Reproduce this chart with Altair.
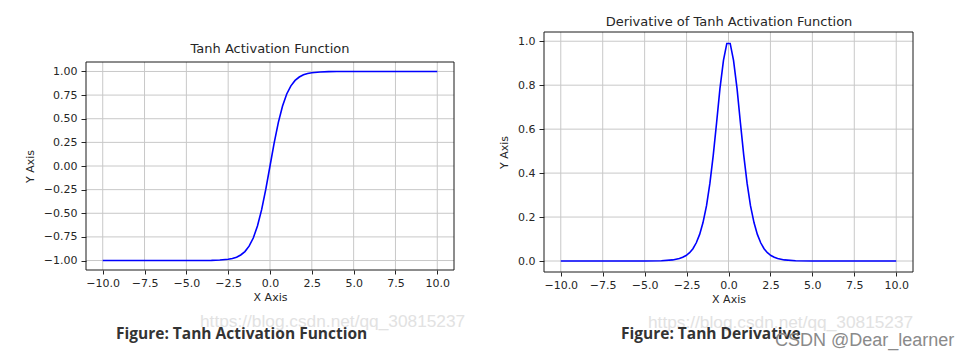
import altair as alt
import pandas as pd

# ---------------- data ----------------
X_TICKS = [-10.0, -7.5, -5.0, -2.5, 0.0, 2.5, 5.0, 7.5, 10.0]
Y1_TICKS = [-1.0, -0.75, -0.5, -0.25, 0.0, 0.25, 0.5, 0.75, 1.0]
Y2_TICKS = [0.0, 0.2, 0.4, 0.6, 0.8, 1.0]

TANH_X = [-10, -8, -6, -5, -4, -3.5, -3, -2.5, -2.25, -2, -1.75, -1.5, -1.25, -1,
          -0.75, -0.5, -0.25, 0, 0.25, 0.5, 0.75, 1, 1.25, 1.5, 1.75, 2, 2.25,
          2.5, 3, 3.5, 4, 5, 6, 8, 10]
TANH_Y = [-1.0, -1.0, -1.0, -1.0, -0.999, -0.998, -0.995, -0.987, -0.978, -0.964,
          -0.941, -0.905, -0.848, -0.762, -0.635, -0.462, -0.245, 0.0, 0.245,
          0.462, 0.635, 0.762, 0.848, 0.905, 0.941, 0.964, 0.978, 0.987, 0.995,
          0.998, 0.999, 1.0, 1.0, 1.0, 1.0]

DER_X = [-10, -8, -6, -5, -4, -3.33, -2.93, -2.73, -2.53, -2.32, -2.12, -1.92,
         -1.72, -1.52, -1.31, -1.11, -0.91, -0.71, -0.51, -0.30, -0.10, 0.10,
         0.30, 0.51, 0.71, 0.91, 1.11, 1.31, 1.52, 1.72, 1.92, 2.12, 2.32, 2.53,
         2.73, 2.93, 3.33, 4, 5, 6, 8, 10]
DER_Y = [0.0, 0.0, 0.0, 0.0, 0.001, 0.005, 0.011, 0.017, 0.025, 0.038, 0.056,
         0.083, 0.121, 0.175, 0.252, 0.353, 0.481, 0.629, 0.784, 0.913, 0.990,
         0.990, 0.913, 0.784, 0.629, 0.481, 0.353, 0.252, 0.175, 0.121, 0.083,
         0.056, 0.038, 0.025, 0.017, 0.011, 0.005, 0.001, 0.0, 0.0, 0.0, 0.0]

TITLES = ["Tanh Activation Function", "Derivative of Tanh Activation Function"]
CAPTIONS = ["Figure: Tanh Activation Function", "Figure: Tanh Derivative"]
WATERMARK = "https://blog.csdn.net/qq_30815237"
CREDIT = "CSDN @Dear_learner"
X_TITLE = "X Axis"
Y_TITLE = "Y Axis"

FONT = "DejaVu Sans"
INK = "#262626"
GRID = "#c8c8c8"


def panel(xs, ys, yticks, xdom, ydom, xrange, yrange, xoff, yoff, yfmt, ytp):
    xsc = alt.Scale(domain=xdom, range=xrange, nice=False, zero=False)
    ysc = alt.Scale(domain=ydom, range=yrange, nice=False, zero=False)
    xax = alt.Axis(title=X_TITLE, values=X_TICKS, format=".1f", orient="bottom",
                   offset=xoff, grid=False, domain=False, tickSize=4,
                   tickColor=INK, labelPadding=3, labelFont=FONT,
                   labelFontSize=11, labelColor=INK, titleFont=FONT,
                   titleFontSize=11, titleFontWeight="normal", titleColor=INK,
                   titlePadding=3, labelFlush=False, labelOverlap=False)
    yax = alt.Axis(title=Y_TITLE, values=yticks, format=yfmt, orient="left",
                   offset=yoff, grid=False, domain=False, tickSize=5,
                   tickColor=INK, labelPadding=4, labelFont=FONT,
                   labelFontSize=11, labelColor=INK, titleFont=FONT,
                   titleFontSize=11, titleFontWeight="normal", titleColor=INK,
                   titlePadding=ytp, labelFlush=False, labelOverlap=False)

    nx, ny = len(X_TICKS), len(yticks)
    vdf = pd.DataFrame({"gx": X_TICKS, "lo": [ydom[0]] * nx, "hi": [ydom[1]] * nx})
    hdf = pd.DataFrame({"gy": yticks, "lo": [xdom[0]] * ny, "hi": [xdom[1]] * ny})
    fdf = pd.DataFrame({"x0": [xdom[0]], "x1": [xdom[1]], "y0": [ydom[0]], "y1": [ydom[1]]})
    ldf = pd.DataFrame({"x": xs, "y": ys})

    vgrid = alt.Chart(vdf).mark_rule(color=GRID, strokeWidth=1).encode(
        x=alt.X("gx:Q", scale=xsc, axis=xax),
        y=alt.Y("lo:Q", scale=ysc, axis=yax),
        y2="hi:Q",
    )
    hgrid = alt.Chart(hdf).mark_rule(color=GRID, strokeWidth=1).encode(
        y=alt.Y("gy:Q", scale=ysc, axis=yax),
        x=alt.X("lo:Q", scale=xsc, axis=xax),
        x2="hi:Q",
    )
    frame = alt.Chart(fdf).mark_rect(fillOpacity=0, stroke="#1a1a1a", strokeWidth=1).encode(
        x=alt.X("x0:Q", scale=xsc, axis=xax),
        x2="x1:Q",
        y=alt.Y("y0:Q", scale=ysc, axis=yax),
        y2="y1:Q",
    )
    line = alt.Chart(ldf).mark_line(color="#0000ff", strokeWidth=1.6).encode(
        x=alt.X("x:Q", scale=xsc, axis=xax),
        y=alt.Y("y:Q", scale=ysc, axis=yax),
    )
    return alt.layer(vgrid, hgrid, frame, line)


H = 343
left = panel(TANH_X, TANH_Y, Y1_TICKS, [-11, 11], [-1.1, 1.1],
             [78, 446], [262, 54], 262 - H, -78, ".2f", 8)
right = panel(DER_X, DER_Y, Y2_TICKS, [-11, 11], [-0.05, 1.042],
              [536, 905], [264, 24], 264 - H, -536, ".1f", 8)

one = pd.DataFrame({"k": [0]})


def txt(text, x, y, **kw):
    return alt.Chart(one).mark_text(text=text, **kw).encode(
        x=alt.value(x), y=alt.value(y))


WM_FONT = "Liberation Sans"
texts = [
    txt(TITLES[0], 262, 41, font=FONT, fontSize=13, color=INK, baseline="middle", align="center"),
    txt(TITLES[1], 721, 14, font=FONT, fontSize=13, color=INK, baseline="middle", align="center"),
    txt(WATERMARK, 192, 319, font=WM_FONT, fontSize=17.3, color="#e2e2e2",
        baseline="alphabetic", align="left"),
    txt(WATERMARK, 640, 320, font=WM_FONT, fontSize=17.3, color="#e2e2e2",
        baseline="alphabetic", align="left"),
    txt(CAPTIONS[0], 108, 331, font="Open Sans", fontSize=15.5, fontWeight="bold", color="#333333",
        baseline="alphabetic", align="left"),
    txt(CAPTIONS[1], 613, 331, font="Open Sans", fontSize=15.5, fontWeight="bold", color="#333333",
        baseline="alphabetic", align="left"),
    txt(CREDIT, 767, 338, font=WM_FONT, fontSize=18, color="#8a8a8a",
        baseline="alphabetic", align="left"),
]

chart = alt.layer(left, right, *texts).resolve_scale(
    x="independent", y="independent"
).properties(
    width=959, height=H, padding=0,
    autosize=alt.AutoSizeParams(type="none"),
).configure_view(stroke=None)

chart.save("out.html", embed_options={"renderer": "svg", "actions": False})
